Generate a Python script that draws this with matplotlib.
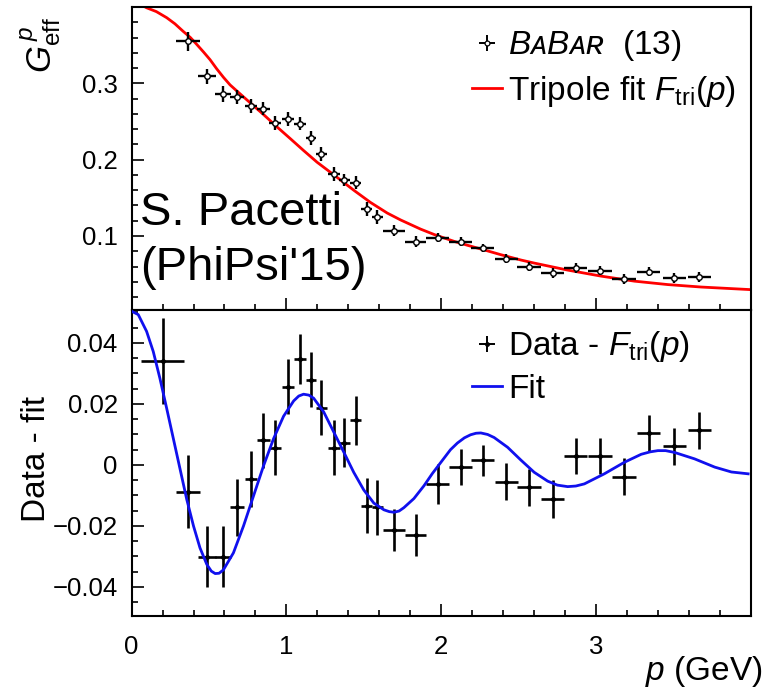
import numpy as np
import matplotlib
matplotlib.use("Agg")
import matplotlib.pyplot as plt
from matplotlib.lines import Line2D
from matplotlib.ticker import MultipleLocator, FixedLocator, FuncFormatter

plt.rcParams['font.family'] = ['Liberation Sans', 'DejaVu Sans']
plt.rcParams['mathtext.fontset'] = 'custom'
plt.rcParams['mathtext.rm'] = 'Liberation Sans'
plt.rcParams['mathtext.it'] = 'Liberation Sans:italic'
plt.rcParams['mathtext.bf'] = 'Liberation Sans:bold'

# BaBar points, p in GeV (first one is above the top panel range)
p_data = [0.20, 0.365, 0.488, 0.59, 0.682, 0.77, 0.852, 0.928, 1.012, 1.086,
          1.159, 1.226, 1.306, 1.373, 1.447, 1.52, 1.587, 1.697, 1.835, 1.978,
          2.126, 2.269, 2.421, 2.567, 2.72, 2.868, 3.026, 3.181, 3.34, 3.506, 3.668]
p_half = [0.14, 0.075, 0.06, 0.05, 0.045, 0.04, 0.04, 0.04, 0.04, 0.04,
          0.035, 0.035, 0.04, 0.035, 0.035, 0.035, 0.035, 0.07, 0.07, 0.075,
          0.075, 0.075, 0.075, 0.075, 0.075, 0.075, 0.075, 0.075, 0.075, 0.075, 0.075]
G_eff = [0.423, 0.355, 0.309, 0.286, 0.282, 0.270, 0.267, 0.248, 0.253, 0.247,
         0.228, 0.207, 0.181, 0.173, 0.170, 0.135, 0.125, 0.107, 0.0925, 0.098,
         0.0925, 0.084, 0.070, 0.060, 0.0516, 0.058, 0.0547, 0.0437, 0.053, 0.045, 0.0463]
G_err = [0.014, 0.012, 0.010, 0.010, 0.0093, 0.0091, 0.009, 0.009, 0.009, 0.0083,
         0.009, 0.009, 0.009, 0.008, 0.008, 0.009, 0.009, 0.007, 0.007, 0.0065,
         0.006, 0.0052, 0.006, 0.006, 0.0062, 0.006, 0.006, 0.006, 0.0058, 0.006, 0.006]
resid = [0.0341, -0.0088, -0.0301, -0.0301, -0.0139, -0.0046, 0.0081, 0.0056, 0.0257, 0.0348,
         0.0279, 0.0187, 0.0056, 0.0073, 0.0147, -0.0134, -0.0139, -0.0213, -0.0230, -0.0062,
         -0.0007, 0.0015, -0.0055, -0.0073, -0.0112, 0.0029, 0.0029, -0.0038, 0.0105, 0.0061, 0.0114]

# tripole fit curve (red)
p_tri = [0.0, 0.097, 0.16, 0.227, 0.28, 0.334, 0.38, 0.421, 0.465, 0.507,
         0.55, 0.593, 0.636, 0.680, 0.766, 0.853, 0.939, 1.025, 1.111, 1.198,
         1.284, 1.349, 1.435, 1.543, 1.652, 1.738, 1.867, 1.96, 2.083, 2.17,
         2.299, 2.385, 2.515, 2.601, 2.817, 3.033, 3.249, 3.465, 3.68, 4.0]
F_tri = [0.410, 0.399, 0.394, 0.386, 0.378, 0.368, 0.360, 0.351, 0.341, 0.331,
         0.319, 0.308, 0.298, 0.290, 0.2745, 0.259, 0.243, 0.2276, 0.212, 0.1967,
         0.1835, 0.1735, 0.160, 0.144, 0.130, 0.121, 0.109, 0.1015, 0.093, 0.0878,
         0.0805, 0.0755, 0.0685, 0.0645, 0.0553, 0.0474, 0.0408, 0.0363, 0.0331, 0.0297]

# oscillation fit of the residuals (blue)
p_osc = [0.0, 0.043, 0.097, 0.14, 0.183, 0.227, 0.27, 0.313, 0.356, 0.40,
         0.442, 0.486, 0.515, 0.54, 0.565, 0.593, 0.658, 0.723, 0.788, 0.853,
         0.917, 0.982, 1.047, 1.08, 1.111, 1.145, 1.176, 1.241, 1.306, 1.371,
         1.435, 1.50, 1.565, 1.63, 1.665, 1.695, 1.728, 1.759, 1.824, 1.889,
         1.943, 2.018, 2.06, 2.105, 2.15, 2.19, 2.225, 2.256, 2.30, 2.342,
         2.429, 2.515, 2.601, 2.688, 2.75, 2.817, 2.87, 2.925, 3.054, 3.184,
         3.292, 3.35, 3.40, 3.45, 3.508, 3.637, 3.767, 3.875, 3.983]
osc_fit = [0.0504, 0.0493, 0.0438, 0.0372, 0.0284, 0.0185, 0.0086, -0.0013, -0.0112, -0.020,
           -0.0272, -0.0326, -0.0348, -0.0356, -0.0355, -0.0344, -0.0288, -0.020, -0.0101, -0.0002,
           0.0086, 0.0160, 0.0210, 0.0226, 0.0232, 0.0229, 0.0219, 0.0174, 0.0108, 0.0042,
           -0.0024, -0.0082, -0.0125, -0.0147, -0.0153, -0.0155, -0.0151, -0.0140, -0.0110, -0.0068,
           -0.0028, 0.0022, 0.0050, 0.0072, 0.0089, 0.0099, 0.0104, 0.0105, 0.0100, 0.0090,
           0.0058, 0.0016, -0.0024, -0.0053, -0.0066, -0.0071, -0.0069, -0.0062, -0.0029, 0.0009,
           0.0035, 0.0043, 0.0047, 0.0047, 0.0041, 0.0020, -0.0007, -0.0023, -0.0029]

fig = plt.figure(figsize=(7.74, 6.88), dpi=100)
ax1 = fig.add_axes([0.170, 0.5494, 0.800, 0.4404])
ax2 = fig.add_axes([0.170, 0.1047, 0.800, 0.4447])


def style_axes(ax):
    for s in ax.spines.values():
        s.set_linewidth(1.5)
    ax.tick_params(which='both', direction='in', top=False, right=False,
                   width=1.2, labelsize=18.5)
    ax.tick_params(which='major', length=8.5)
    ax.tick_params(which='minor', length=4.5)
    ax.tick_params(axis='y', pad=10)
    ax.tick_params(axis='x', pad=14)
    ax.set_xlim(0, 4.0)
    ax.xaxis.set_major_locator(FixedLocator([0, 1, 2, 3]))
    ax.xaxis.set_minor_locator(MultipleLocator(0.2))


fmt = FuncFormatter(lambda v, pos: '0' if abs(v) < 1e-9 else ('%g' % v).replace('-', '\u2212'))

# top panel
style_axes(ax1)
ax1.plot(p_tri, F_tri, color='red', lw=2.0, zorder=2)
ax1.errorbar(p_data, G_eff, xerr=p_half, yerr=G_err, fmt='o', ms=4, mfc='white',
             mec='black', mew=1.0, ecolor='black', elinewidth=1.7, capsize=0, zorder=3)
ax1.set_ylim(0.003, 0.40)
ax1.yaxis.set_major_locator(FixedLocator([0.1, 0.2, 0.3]))
ax1.yaxis.set_minor_locator(MultipleLocator(0.02))
ax1.yaxis.set_major_formatter(fmt)
ax1.tick_params(axis='x', labelbottom=False)

h_babar = (Line2D([], [], color='k', marker='+', ms=12, mew=1.4, ls='none'),
           Line2D([], [], color='k', marker='o', ms=3.5, mfc='white', mew=0.9, ls='none'))
h_red = Line2D([], [], color='red', lw=2.0)
leg1 = ax1.legend([h_babar, h_red],
                  ['B\u1d00B\u1d00\u0280  $\\mathrm{(13)}$', 'Tripole fit $F_{\\mathrm{tri}}(p)$'],
                  loc='upper left', bbox_to_anchor=(0.5495, 0.93), frameon=False,
                  fontsize=24, handlelength=0.9, handletextpad=0.2, labelspacing=0.32,
                  borderpad=0, borderaxespad=0)
leg1.get_texts()[0].set_fontstyle('italic')

# bottom panel
style_axes(ax2)
ax2.errorbar(p_data, resid, xerr=p_half, yerr=G_err, fmt='o', ms=2.5, color='black',
             elinewidth=1.9, capsize=0, zorder=3)
ax2.plot(p_osc, osc_fit, color='#1010ee', lw=2.0, zorder=4)
ax2.set_ylim(-0.0495, 0.0508)
ax2.yaxis.set_major_locator(FixedLocator([-0.04, -0.02, 0, 0.02, 0.04]))
ax2.yaxis.set_minor_locator(MultipleLocator(0.005))
ax2.yaxis.set_major_formatter(fmt)
ax2.xaxis.set_major_formatter(FuncFormatter(lambda v, pos: '%d' % round(v)))

h_res = (Line2D([], [], color='k', marker='+', ms=12, mew=1.4, ls='none'),
         Line2D([], [], color='k', marker='o', ms=2.5, ls='none'))
h_blue = Line2D([], [], color='#1010ee', lw=2.0)
ax2.legend([h_res, h_blue], ['Data - $F_{\\mathrm{tri}}(p)$', 'Fit'],
           loc='upper left', bbox_to_anchor=(0.5495, 0.937), frameon=False,
           fontsize=24, handlelength=0.9, handletextpad=0.2, labelspacing=0.28,
           borderpad=0, borderaxespad=0)

# labels
fig.text(0.052, 0.975, '$G^{\\,p}_{\\mathrm{eff}}$', rotation=90, ha='center', va='top', fontsize=25)
fig.text(0.047, 1 - 459 / 688, 'Data - fit', rotation=90, ha='center', va='center', fontsize=24)
fig.text(763 / 774, 1 - 680 / 688, '$p$ (GeV)', ha='right', va='baseline', fontsize=24)
fig.text(140 / 774, 1 - 225 / 688, 'S. Pacetti', ha='left', va='baseline', fontsize=34)
fig.text(140 / 774, 1 - 280 / 688, "(PhiPsi'15)", ha='left', va='baseline', fontsize=34)

fig.savefig('out.png', dpi=100)
